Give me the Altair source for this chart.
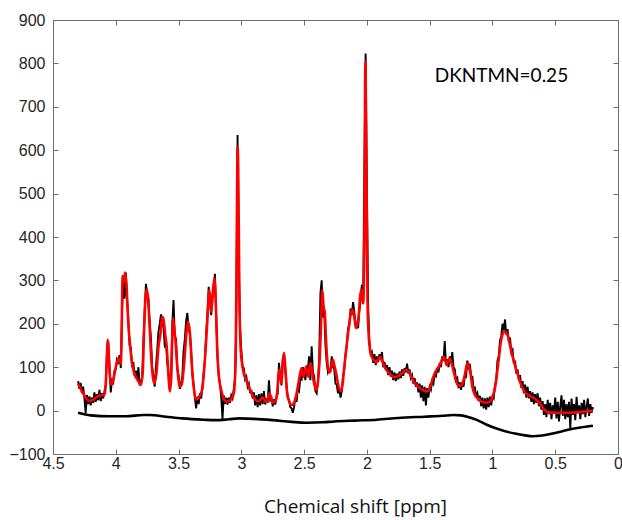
import altair as alt
import pandas as pd

# ---------------- data ----------------
# measured spectrum (black, noisy), sampled every 0.01 ppm from 4.30 down to 0.20
black_start = 4.30
black_step = 0.01
black_vals = [
    68, 50, 64, 40, 55, 30, -6, 36, 15, 33,        # 4.30-4.21
    12, 30, 18, 42, 20, 38, 24, 48, 22, 40,        # 4.20-4.11
    28, 45, 58, 135, 160, 100, 42, 70, 65, 92,     # 4.10-4.01
    95, 118, 112, 128, 98, 230, 312, 258, 318, 255,  # 4.00-3.91
    210, 150, 145, 100, 112, 80, 92, 70, 100, 62,  # 3.90-3.81
    66, 75, 160, 225, 292, 270, 258, 205, 168, 100,  # 3.80-3.71
    78, 55, 102, 140, 182, 200, 222, 200, 192, 150,  # 3.70-3.61
    155, 112, 86, 50, 62, 200, 255, 170, 165, 96,  # 3.60-3.51
    82, 50, 62, 80, 138, 165, 205, 225, 188, 178,  # 3.50-3.41
    138, 82, 60, 30, 5, 32, 15, 40, 28, 52,        # 3.40-3.31
    88, 115, 178, 225, 285, 255, 220, 262, 285, 315,  # 3.30-3.21
    215, 130, 78, 62, 30, -20, 35, 15, 30, 14,     # 3.20-3.11
    30, 18, 35, 28, 50, 75, 215, 635, 330, 190,    # 3.10-3.01
    140, 100, 98, 72, 78, 55, 62, 40, 48, 28,      # 3.00-2.91
    42, 12, 35, 8, 38, 12, 40, 15, 45, 14,         # 2.90-2.81
    28, 18, 70, 25, 30, 10, 26, 14, 30, 40,        # 2.80-2.71
    110, 80, 58, 120, 130, 95, 55, 30, 25, 8,      # 2.70-2.61
    5, -5, 8, 30, 20, 50, 45, 75, 72, 100,         # 2.60-2.51
    92, 70, 100, 95, 125, 70, 148, 90, 78, 45,     # 2.50-2.41
    40, 68, 118, 270, 300, 215, 230, 150, 110, 88,  # 2.40-2.31
    95, 92, 125, 100, 95, 62, 60, 40, 52, 30,      # 2.30-2.21
    45, 80, 95, 130, 150, 190, 195, 235, 220, 250,  # 2.20-2.11
    228, 195, 200, 190, 230, 255, 290, 245, 560, 823,  # 2.10-2.01
    520, 240, 160, 130, 135, 110, 130, 105, 125, 112,  # 2.00-1.91
    130, 118, 135, 100, 112, 95, 105, 82, 100, 78,  # 1.90-1.81
    92, 70, 88, 68, 85, 72, 90, 75, 95, 80,        # 1.80-1.71
    98, 88, 108, 85, 95, 75, 82, 62, 75, 55,       # 1.70-1.61
    65, 42, 62, 30, 58, 22, 55, 12, 52, 30,        # 1.60-1.51
    55, 48, 68, 62, 85, 80, 98, 88, 110, 100,      # 1.50-1.41
    125, 115, 160, 105, 118, 100, 125, 110, 135, 100,  # 1.40-1.31
    95, 70, 75, 52, 65, 48, 66, 55, 80, 78,        # 1.30-1.21
    115, 100, 108, 80, 78, 48, 52, 32, 40, 22,     # 1.20-1.11
    34, 10, 30, 5, 28, 2, 30, 8, 32, 12,           # 1.10-1.01
    32, 28, 58, 70, 115, 125, 162, 170, 200, 185,  # 1.00-0.91
    210, 175, 188, 160, 168, 135, 140, 108, 115, 85,  # 0.90-0.81
    95, 70, 82, 52, 68, 40, 60, 30, 55, 28,        # 0.80-0.71
    45, 20, 42, 15, 38, 18, 40, 10, 30, 2,         # 0.70-0.61
    22, -10, 15, -15, 25, -8, 18, -20, 12, -6,     # 0.60-0.51
    30, -18, 20, -25, 10, 35, -12, 25, -20, 15,    # 0.50-0.41
    -15, 20, -40, 28, -10, 15, -22, 32, -5, 12,    # 0.40-0.31
    -20, 18, -8, 25, -15, 10, 28, -12, 15, -5,     # 0.30-0.21
    8,                                             # 0.20
]

# fitted spectrum (red): (ppm, value)
red_fit = [
    (4.30, 62), (4.27, 45), (4.24, 30), (4.21, 22), (4.18, 25), (4.15, 32), (4.12, 35),
    (4.09, 37), (4.08, 60), (4.07, 130), (4.065, 163), (4.06, 150), (4.05, 95), (4.04, 60),
    (4.03, 62), (4.01, 85), (4.00, 100), (3.98, 120), (3.97, 115), (3.96, 108), (3.955, 150),
    (3.945, 310), (3.935, 296), (3.925, 318), (3.915, 290), (3.90, 200), (3.89, 163),
    (3.875, 120), (3.865, 101), (3.845, 80), (3.825, 70), (3.80, 59), (3.785, 90),
    (3.775, 180), (3.765, 255), (3.755, 279), (3.745, 265), (3.73, 190), (3.715, 110),
    (3.70, 70), (3.69, 63), (3.675, 90), (3.66, 147), (3.645, 175), (3.63, 216), (3.62, 210),
    (3.605, 172), (3.595, 150), (3.58, 80), (3.57, 44), (3.56, 70), (3.55, 170), (3.545, 213),
    (3.535, 190), (3.525, 163), (3.51, 100), (3.49, 55), (3.475, 60), (3.455, 110),
    (3.44, 170), (3.425, 205), (3.41, 180), (3.395, 110), (3.38, 55), (3.36, 25), (3.34, 30),
    (3.315, 45), (3.30, 80), (3.285, 140), (3.27, 210), (3.255, 278), (3.245, 250),
    (3.24, 228), (3.23, 260), (3.215, 305), (3.205, 260), (3.19, 124), (3.175, 70),
    (3.16, 47), (3.14, 28), (3.12, 21), (3.10, 22), (3.08, 27), (3.06, 40), (3.045, 120),
    (3.035, 450), (3.03, 608), (3.025, 560), (3.015, 250), (3.005, 140), (2.995, 110),
    (2.98, 85), (2.96, 70), (2.94, 55), (2.92, 40), (2.90, 30), (2.87, 21), (2.85, 24),
    (2.83, 30), (2.82, 26), (2.80, 20), (2.79, 28), (2.775, 40), (2.765, 30), (2.75, 18),
    (2.73, 22), (2.715, 40), (2.70, 94), (2.69, 80), (2.68, 63), (2.67, 110), (2.66, 133),
    (2.65, 100), (2.635, 40), (2.62, 22), (2.60, 13), (2.58, 18), (2.565, 32), (2.55, 55),
    (2.535, 80), (2.52, 98), (2.505, 78), (2.485, 101), (2.465, 78), (2.45, 110),
    (2.435, 90), (2.425, 70), (2.41, 52), (2.40, 47), (2.385, 80), (2.375, 124),
    (2.365, 200), (2.355, 278), (2.345, 240), (2.335, 225), (2.325, 160), (2.31, 100),
    (2.295, 88), (2.285, 100), (2.27, 117), (2.26, 105), (2.245, 86), (2.225, 55),
    (2.205, 44), (2.19, 70), (2.18, 101), (2.165, 140), (2.15, 178), (2.135, 212),
    (2.125, 228), (2.115, 232), (2.105, 225), (2.095, 205), (2.085, 190), (2.075, 200),
    (2.065, 220), (2.055, 260), (2.045, 278), (2.035, 255), (2.03, 248), (2.02, 400),
    (2.012, 804), (2.005, 600), (1.995, 250), (1.985, 170), (1.975, 140), (1.965, 128),
    (1.95, 118), (1.94, 115), (1.925, 112), (1.91, 118), (1.895, 124), (1.88, 115),
    (1.86, 101), (1.84, 92), (1.82, 86), (1.80, 80), (1.78, 77), (1.765, 78), (1.745, 80),
    (1.725, 85), (1.705, 90), (1.685, 94), (1.665, 88), (1.645, 78), (1.625, 66),
    (1.605, 59), (1.58, 52), (1.555, 47), (1.525, 44), (1.505, 47), (1.49, 60), (1.47, 78),
    (1.445, 94), (1.42, 105), (1.40, 118), (1.39, 124), (1.38, 120), (1.365, 105),
    (1.355, 112), (1.34, 120), (1.325, 108), (1.305, 86), (1.29, 68), (1.275, 59),
    (1.25, 57), (1.235, 65), (1.22, 82), (1.205, 105), (1.195, 109), (1.185, 100),
    (1.175, 86), (1.16, 55), (1.145, 40), (1.125, 30), (1.10, 24), (1.075, 19), (1.05, 18),
    (1.025, 20), (1.005, 28), (0.99, 40), (0.975, 60), (0.96, 94), (0.945, 130),
    (0.935, 155), (0.92, 175), (0.905, 182), (0.89, 180), (0.875, 170), (0.86, 150),
    (0.845, 130), (0.83, 115), (0.815, 98), (0.80, 85), (0.785, 70), (0.77, 58),
    (0.755, 50), (0.74, 42), (0.715, 36), (0.69, 32), (0.665, 28), (0.64, 22), (0.615, 14),
    (0.595, 5), (0.575, -1), (0.555, -4), (0.50, -5), (0.40, -5), (0.33, -4), (0.26, -2),
    (0.20, 0),
]

# baseline (smooth black): (ppm, value)
baseline = [
    (4.30, -5), (4.20, -11), (4.05, -13), (3.92, -13), (3.78, -10), (3.73, -10),
    (3.60, -14), (3.47, -18), (3.30, -21), (3.20, -22), (3.10, -20), (3.02, -18),
    (2.90, -19), (2.75, -22), (2.60, -26), (2.48, -28), (2.35, -27), (2.26, -25),
    (2.10, -23), (1.92, -21), (1.75, -17), (1.54, -14), (1.40, -12), (1.31, -10),
    (1.25, -11), (1.20, -14), (1.12, -22), (1.05, -32), (0.95, -43), (0.82, -53),
    (0.74, -57), (0.68, -59), (0.62, -58), (0.54, -54), (0.45, -48), (0.38, -43),
    (0.30, -39), (0.20, -35),
]

x_ticks = [4.5, 4, 3.5, 3, 2.5, 2, 1.5, 1, 0.5, 0]
y_ticks = [-100, 0, 100, 200, 300, 400, 500, 600, 700, 800, 900]
annotation = [("DKNTMN=0.25", 1.46, 757)]

# ---------------- tables ----------------
df_black = pd.DataFrame({
    "ppm": [round(black_start - black_step * i, 2) for i in range(len(black_vals))],
    "value": black_vals,
})
df_red = pd.DataFrame(red_fit, columns=["ppm", "value"])
df_base = pd.DataFrame(baseline, columns=["ppm", "value"])
df_ann = pd.DataFrame(annotation, columns=["label", "ppm", "value"])

xscale = alt.Scale(domain=[0, 4.5], reverse=True, nice=False, zero=False)
yscale = alt.Scale(domain=[-100, 900], nice=False, zero=False)

FRAME = "#6e6e6e"
LABEL = "#262626"

bottom_x = alt.Axis(values=x_ticks, format="~g", orient="bottom", grid=False, domain=False,
                    tickSize=5, offset=-5, tickColor=FRAME, labelPadding=1, labelFlush=False,
                    labelFont="Liberation Sans", labelFontSize=16, labelColor=LABEL,
                    title="Chemical shift [ppm]", titleFont="Open Sans", titleFontSize=19,
                    titleFontWeight="normal", titleColor="#111", titlePadding=26,
                    titleX=302, titleAlign="center")
left_y = alt.Axis(values=y_ticks, format="d", orient="left", grid=False, domain=False,
                  tickSize=5, offset=-5, tickColor=FRAME, labelPadding=8, labelFlush=False,
                  labelFont="Liberation Sans", labelFontSize=16, labelColor=LABEL,
                  title="")
top_x = alt.Axis(values=x_ticks, orient="top", grid=False, domain=False, labels=False,
                 tickSize=5, offset=-5, tickColor=FRAME, title="")
right_y = alt.Axis(values=y_ticks, orient="right", grid=False, domain=False, labels=False,
                   tickSize=5, offset=-5, tickColor=FRAME, title="")

base_layer = alt.Chart(df_base).mark_line(color="black", strokeWidth=2.6, interpolate="monotone").encode(
    x=alt.X("ppm:Q", scale=xscale, axis=bottom_x),
    y=alt.Y("value:Q", scale=yscale, axis=left_y),
)
black_layer = alt.Chart(df_black).mark_line(color="black", strokeWidth=1.9).encode(
    x=alt.X("ppm:Q", scale=xscale, axis=top_x),
    y=alt.Y("value:Q", scale=yscale, axis=right_y),
)
red_layer = alt.Chart(df_red).mark_line(color="#ff0000", strokeWidth=2.6, interpolate="monotone").encode(
    x=alt.X("ppm:Q", scale=xscale, axis=None),
    y=alt.Y("value:Q", scale=yscale, axis=None),
)
text_layer = alt.Chart(df_ann).mark_text(align="left", baseline="alphabetic", font="Lato",
                                         fontSize=19, color="black").encode(
    x=alt.X("ppm:Q", scale=xscale, axis=None),
    y=alt.Y("value:Q", scale=yscale, axis=None),
    text="label:N",
)

chart = alt.layer(base_layer, black_layer, red_layer, text_layer).resolve_axis(
    x="independent", y="independent"
).properties(
    width=565, height=434,
    autosize=alt.AutoSizeParams(type="none"),
    padding={"left": 53, "top": 20, "right": 4, "bottom": 66},
    background="white",
).configure_view(stroke=FRAME, strokeWidth=1)

chart.save("out.html", embed_options={"renderer": "svg", "actions": False})
